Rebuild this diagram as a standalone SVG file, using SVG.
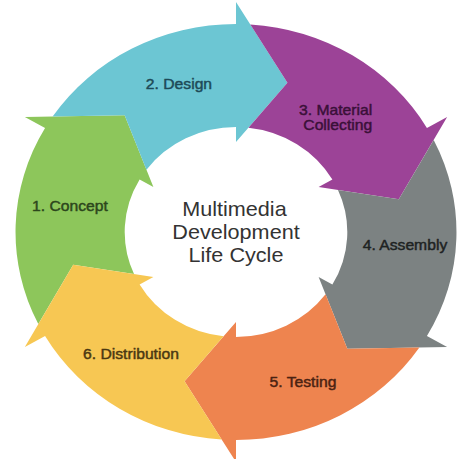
<svg xmlns="http://www.w3.org/2000/svg" width="463" height="459" viewBox="0 0 463 459">
  <defs>
    <!-- One ring segment: band from -60deg to 0deg with a notched tail and a wide arrowhead at 0deg -->
    <path id="seg" d="M115.46,-173 A208,208 0 0 1 208,0 L230,0 L149.32,48.52 L90,0 L105,0 A105,105 0 0 0 62.33,-84.49 L116.68,-105.05 Z"/>
  </defs>
  <style>
    .lbl { font-family: "Liberation Sans", Arial, sans-serif; font-size: 14.8px; text-anchor: middle; stroke-width: 0.45px; stroke-linejoin: round; }
    .hub { font-family: "Liberation Sans", Arial, sans-serif; font-size: 20.4px; text-anchor: middle; fill: #333333; }
  </style>
  <rect width="463" height="459" fill="#ffffff"/>
  <g transform="matrix(1.06 0 0 1 -14.16 0)">
    <g id="n1-concept">
      <use href="#seg" transform="translate(236 232) rotate(210)" fill="#8dc65b"/>
      <text class="lbl" x="79.4" y="211" fill="#2c461c" stroke="#2c461c">1. Concept</text>
    </g>
    <g id="n2-design">
      <use href="#seg" transform="translate(236 232) rotate(270)" fill="#6cc6d3"/>
      <text class="lbl" x="182.2" y="89" fill="#1d4a57" stroke="#1d4a57">2. Design</text>
    </g>
    <g id="n3-material">
      <use href="#seg" transform="translate(236 232) rotate(330)" fill="#9c4397"/>
      <text class="lbl" x="330" y="115" fill="#3a1038" stroke="#3a1038">3. Material</text>
      <text class="lbl" x="332" y="130" fill="#3a1038" stroke="#3a1038">Collecting</text>
    </g>
    <g id="n4-assembly">
      <use href="#seg" transform="translate(236 232) rotate(30)" fill="#7c8282"/>
      <text class="lbl" x="395.4" y="250" fill="#1e2222" stroke="#1e2222">4. Assembly</text>
    </g>
    <g id="n5-testing">
      <use href="#seg" transform="translate(236 232) rotate(90)" fill="#ee844f"/>
      <text class="lbl" x="299.2" y="387" fill="#4a2212" stroke="#4a2212">5. Testing</text>
    </g>
    <g id="n6-distribution">
      <use href="#seg" transform="translate(236 232) rotate(150)" fill="#f7c753"/>
      <text class="lbl" x="136.9" y="359" fill="#4a3812" stroke="#4a3812">6. Distribution</text>
    </g>
    <g id="hub">
      <text class="hub" x="234.5" y="216">Multimedia</text>
      <text class="hub" x="236" y="239">Development</text>
      <text class="hub" x="236" y="262">Life Cycle</text>
    </g>
  </g>
</svg>
